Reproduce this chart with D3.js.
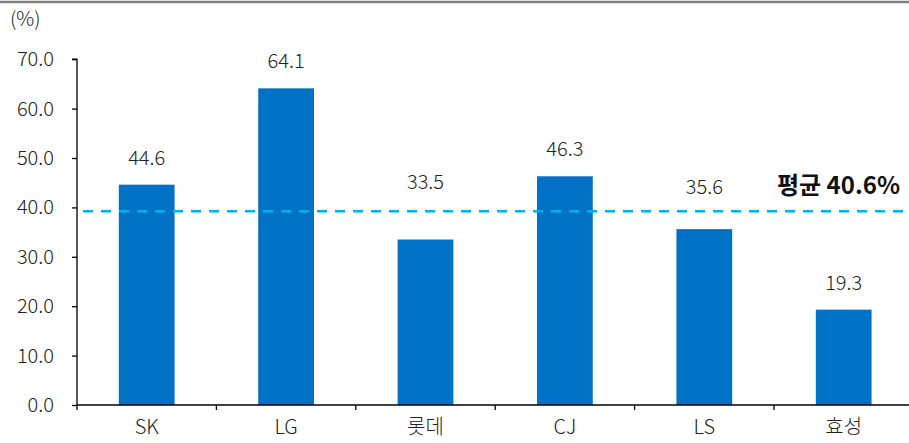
<!DOCTYPE html>
<html><head><meta charset="utf-8">
<script src="https://cdn.jsdelivr.net/npm/d3@7"></script>
<style>
html,body{margin:0;padding:0;background:#fff;}
svg{display:block;font-family:"Noto Sans CJK KR","Noto Sans",sans-serif;}
</style></head>
<body>
<script>
const categories = ["SK","LG","롯데","CJ","LS","효성"];
const values = [44.6,64.1,33.5,46.3,35.6,19.3];
const yTicks = [0,10,20,30,40,50,60,70];
const avgLineValue = 39.2;
const avgLabel = "평균 40.6%";
const unitLabel = "(%)";

const W = 909, H = 443;
const FS = 20, TXT = "#222", FW = 300;
const svg = d3.select("body").append("svg").attr("width",W).attr("height",H);

// top rule
svg.append("line").attr("x1",0).attr("x2",W).attr("y1",2).attr("y2",2)
  .attr("stroke","#7f7f7f").attr("stroke-width",2.5);

const x0 = 77, bandW = 139.4;
const x = d3.scaleBand().domain(categories).range([x0, x0 + bandW*categories.length]).paddingInner(0).paddingOuter(0);
const y = d3.scaleLinear().domain([0,70]).range([405, 59.2]);

// bars
svg.selectAll("rect.bar").data(values).enter().append("rect")
  .attr("class","bar")
  .attr("x",(d,i)=>x(categories[i]) + x.bandwidth()*0.3)
  .attr("width",x.bandwidth()*0.4)
  .attr("y",d=>y(d))
  .attr("height",d=>y(0)-y(d))
  .attr("fill","#0072c6");

// value labels (labels of bars below the average line are lifted above it)
const lift = [0,0,-31,0,-15,0];
svg.selectAll("text.val").data(values).enter().append("text")
  .attr("x",(d,i)=>x(categories[i]) + x.bandwidth()/2)
  .attr("y",(d,i)=>y(d)-20+lift[i])
  .attr("text-anchor","middle")
  .attr("font-size",FS).attr("font-weight",FW)
  .attr("fill",TXT)
  .text(d=>d.toFixed(1));

// y axis
const yAxis = d3.axisLeft(y).tickValues(yTicks).tickFormat(d3.format(".1f")).tickSize(5).tickPadding(18);
const gy = svg.append("g").attr("transform",`translate(${x0},0)`).call(yAxis);
gy.select(".domain").attr("stroke","#000").attr("stroke-width",1.3).attr("d",`M-5,${y(70)}H0V${y(0)}`);
gy.selectAll(".tick line").attr("stroke","#000").attr("stroke-width",1.3);
gy.selectAll(".tick text").attr("font-size",FS).attr("font-weight",FW).attr("fill",TXT)
  .attr("font-family","'Noto Sans CJK KR','Noto Sans',sans-serif");

// x axis
const gx = svg.append("g").attr("transform",`translate(0,${y(0)})`);
gx.append("line").attr("x1",x0).attr("x2",W).attr("y1",0).attr("y2",0).attr("stroke","#000").attr("stroke-width",1.3);
const bounds = d3.range(categories.length).map(i=>x0 + i*x.step());
gx.selectAll("line.tk").data(bounds).enter().append("line")
  .attr("x1",d=>d).attr("x2",d=>d).attr("y1",0).attr("y2",5).attr("stroke","#000").attr("stroke-width",1.3);
gx.selectAll("text.cat").data(categories).enter().append("text")
  .attr("x",d=>x(d)+x.bandwidth()/2).attr("y",29)
  .attr("text-anchor","middle").attr("font-size",FS).attr("font-weight",FW).attr("fill",TXT).text(d=>d);

// average line
svg.append("line").attr("x1",83).attr("x2",W).attr("y1",y(avgLineValue)).attr("y2",y(avgLineValue))
  .attr("stroke","#00b0f0").attr("stroke-width",2.5).attr("stroke-dasharray","10,8");
svg.append("text").attr("x",900).attr("y",194).attr("text-anchor","end")
  .attr("font-size",24).attr("font-weight","bold").attr("fill","#111").text(avgLabel);

// unit
svg.append("text").attr("x",10).attr("y",26).attr("font-size",FS).attr("font-weight",FW).attr("fill",TXT).text(unitLabel);
</script>
</body></html>
